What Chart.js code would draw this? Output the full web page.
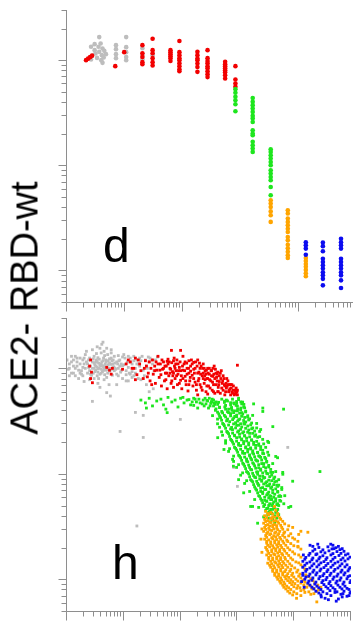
<!DOCTYPE html>
<html>
<head>
<meta charset="utf-8">
<script src="https://cdn.jsdelivr.net/npm/chart.js@4"></script>
<style>
  html, body { margin: 0; padding: 0; background: #fff; }
  #wrap { position: relative; width: 357px; height: 631px; overflow: hidden; }
  canvas { position: absolute; left: 0; top: 0; }
  #ylabel {
    position: absolute; left: 25px; top: 308px;
    transform: translate(-50%, -50%) rotate(-90deg);
    font: 38px "Liberation Sans", Arial, sans-serif;
    white-space: nowrap; color: #000;
  }
</style>
</head>
<body>
<div id="wrap">
  <canvas id="chartD" width="357" height="631"></canvas>
  <canvas id="chartH" width="357" height="631"></canvas>
  <div id="ylabel">ACE2- RBD-wt</div>
</div>
<script>
// tick values (no labels shown on either axis)
const yTicks = [5, 6, 7, 8, 9, 10, 20, 30, 40, 50, 60, 70, 80, 90, 100, 200, 300, 400, 500, 600, 700, 800, 900, 1000, 2000, 3000];
const dXTicks = [1, 2, 3, 4, 5, 6, 7, 8, 9, 10, 20, 30, 40, 50, 60, 70, 80, 90, 100, 200, 300, 400, 500, 600, 700, 800, 900,
  1000, 2000, 3000, 4000, 5000, 6000, 7000, 8000, 9000, 10000, 20000, 30000, 40000, 50000, 60000, 70000, 80000];
const hXTicks = [1, 2, 3, 4, 5, 6, 7, 8, 9, 10, 20, 30, 40, 50, 60, 70, 80, 90, 100, 200, 300, 400, 500, 600, 700, 800, 900,
  1000, 2000, 3000, 4000, 5000, 6000, 7000, 8000, 9000, 10000, 20000, 30000, 40000, 50000, 60000, 70000, 80000, 90000, 100000];

// panel d: columns of [x, [y values]]
const dGray = [[2.6, [1339, 1015]], [3.0, [1420, 1245]], [3.1, [1158]], [3.5, [1339]], [3.6, [1656, 1200]], [3.8, [1442]],
  [4.0, [1116]], [4.1, [1292, 943]], [4.4, [1226]], [4.7, [1141]], [2.7, [1100]], [3.3, [1050]], [3.9, [1000]], [4.3, [1060]],
  [7.0, [1389, 1273, 1141, 1045]], [10.5, [1656, 1330, 1192, 1070, 1000]], [20, [1300, 1116, 1020]], [30, [1116]]];
const dRed = [[2.13, [1000]], [2.31, [1033]], [2.5, [1068]], [2.71, [1104]], [6.8, [877]], [9.7, [1192]],
  [20, [1389, 1165, 1070, 957, 916]],
  [30, [1600, 1245, 1165, 1045, 957, 890]],
  [61, [1245, 1192, 1141, 1092, 1045, 980]],
  [87, [1520, 1192, 1116, 1045, 1000, 935, 877, 820, 785]],
  [178, [1200, 1116, 1038, 1000, 930, 860, 774]],
  [266, [1245, 1045, 980, 935, 877, 839, 785, 736, 690]],
  [535, [963, 916, 877, 839, 803, 769, 720, 670]],
  [805, [877, 655, 600, 557]]];
const dGreen = [[805, [530, 490, 448, 416, 380, 326]],
  [1600, [437, 401, 373, 347, 322, 295, 279, 258, 215, 200, 193, 167, 155, 144, 134]],
  [3270, [142, 134, 124.5, 116, 107.5, 100, 89.6, 83.4, 77.4, 71.9, 62.1, 51.8]]];
const dOrange = [[3270, [46.4, 43.2, 40.1, 36.4, 33.4, 28.9]],
  [6450, [37.3, 34.7, 31.1, 28.9, 26.8, 24.9, 23.2, 20.8, 19.3, 17.5, 16.2, 15.0, 13.9, 13.1]],
  [13200, [13.1, 12.3, 11.5, 10.8, 10.1, 9.4, 8.8]]];
const dBlue = [[13200, [18.5, 17.3, 16.1, 14.1]],
  [26000, [18.4, 17.0, 15.2, 12.9, 12.0, 11.2, 10.4, 9.6, 8.96, 8.3, 7.2]],
  [53400, [20.0, 18.5, 17.3, 16.1, 12.9, 12.0, 11.2, 10.4, 9.6, 8.96, 8.03, 6.8]]];

// panel h: [x, y] points
const hGray = [
  [2.1, 1000], [2.3, 1100], [2.5, 950], [2.6, 1050], [2.8, 1150], [2.9, 900], [3.0, 1000], [3.1, 1080], [3.2, 960], [3.3, 1200],
  [3.4, 1030], [3.5, 920], [3.6, 1120], [3.7, 1000], [3.8, 880], [3.9, 1060], [4.0, 980], [4.1, 1150], [4.2, 930], [4.3, 1040],
  [4.5, 1000], [4.6, 870], [4.7, 1100], [4.8, 960], [5.0, 1050], [5.2, 900], [5.3, 1180], [5.5, 1000], [5.7, 940], [5.9, 1090],
  [6.1, 980], [6.3, 860], [6.5, 1030], [6.8, 950], [7.0, 1120], [3.4, 850], [2.7, 860], [4.4, 1250], [3.0, 1300], [3.6, 800],
  [5.0, 820], [2.4, 1200], [4.0, 1100], [3.2, 1150], [4.9, 1150], [3.5, 1260], [4.6, 1320], [5.6, 1230], [6.2, 1180], [2.9, 1230],
  [1.05, 980], [1.1, 1100], [1.2, 900], [1.3, 1050], [1.4, 850], [1.5, 1150], [1.6, 960], [1.7, 1250], [1.8, 880], [1.9, 1020],
  [1.3, 1200], [1.6, 800], [7.5, 880], [8, 1000], [8.5, 1200], [9, 950], [10, 1080], [11, 870], [12, 1020], [13, 1150],
  [14, 930], [16, 1000], [18, 1100], [20, 1180], [22, 960], [25, 1050], [28, 1150], [9.5, 800], [12, 760], [15, 850],
  [4.5, 1450], [3.8, 1550], [6, 1400], [2.0, 750], [3.5, 720], [5.5, 700], [7.5, 700], [7.5, 1150], [8.5, 1050], [9.5, 1280],
  [2.2, 1150], [2.4, 1020], [2.5, 1250], [2.6, 880], [2.8, 1000], [3.0, 1120], [3.1, 930], [3.2, 1050], [3.4, 1150], [3.5, 990],
  [3.7, 1220], [3.8, 1080], [4.0, 900], [4.2, 1060], [4.3, 1180], [4.4, 960], [4.6, 1040], [4.8, 1200], [5.1, 970], [5.3, 1080],
  [5.6, 1120], [5.8, 1000], [6.0, 1250], [6.4, 1100], [6.7, 1030], [7.2, 980], [7.8, 1100], [8.2, 1180], [8.8, 920], [9.5, 1060],
  [2.0, 1100], [2.3, 900], [1.9, 1200], [1.4, 1000], [1.2, 1300], [1.1, 850], [1.5, 1250], [1.7, 1100], [1.8, 950], [2.1, 1350],
  [3.3, 1380], [4.0, 1400], [5.2, 1350], [6.8, 1300], [8, 1320], [10.5, 1250], [11.5, 1150], [13, 1250], [15, 1180], [17, 1100],
  [19, 1250], [24, 1200], [27, 1280], [31, 1200], [12.5, 900], [14, 820], [11, 760], [3.0, 800], [4.5, 780], [2.5, 780],
  [10, 1350], [11, 950], [12, 1300], [13, 880], [14, 1100], [15, 1300], [16, 900], [17, 1200], [18, 800], [19, 1050],
  [21, 1300], [23, 850], [26, 1000], [29, 1250], [32, 1100], [36, 1200], [39, 1280], [34, 950], [9, 1100], [8, 850],
  [7, 1000], [6.5, 1200], [2.2, 1450], [2.8, 1500], [3.4, 1600], [5, 1550], [6, 1500], [1.1, 1000], [1.2, 1150], [1.0, 1200],
  [1.3, 900], [1.5, 1050], [1.7, 900], [1.4, 1300], [2.0, 1250], [1.9, 850],
  [20, 780], [25, 700], [33, 640], [28, 600], [4.3, 1770], [4.1, 1690], [2.8, 486], [8.6, 252], [22, 221], [17, 32],
  [16, 382], [22, 358], [99, 328], [860, 115], [1000, 76], [5.0, 588], [5.8, 546], [3.8, 660], [7700, 178]];
const hRed = [
  [2.6, 1200], [2.5, 1050], [2.7, 920], [2.6, 800], [2.8, 730], [5.0, 1020], [5.6, 960], [6.3, 1000], [6.0, 880], [9.5, 980],
  [11, 1100], [12, 1200], [14, 1000],
  [13, 1150], [15, 1000], [16, 1250], [17, 870], [19, 1100], [20, 950], [22, 800], [24, 1180], [25, 1050], [27, 900],
  [29, 760], [30, 1000], [32, 1200], [33, 880], [35, 1050], [36, 720], [38, 960], [40, 1300], [42, 820], [44, 1100],
  [46, 680], [48, 980], [50, 1150], [52, 760], [54, 900], [56, 1050], [58, 640], [60, 1220], [62, 850], [65, 1000],
  [68, 720], [70, 1130], [72, 930], [75, 660], [78, 1050], [80, 800], [83, 950], [86, 1200], [88, 700], [90, 880],
  [95, 1020], [100, 770], [105, 640], [110, 960], [115, 1100], [120, 840], [125, 700], [130, 1000], [135, 610], [140, 900],
  [145, 760], [150, 1050], [110, 1300], [160, 860], [165, 680], [170, 980], [180, 740], [185, 1150], [190, 620], [200, 900],
  [210, 800], [220, 1000], [230, 660], [240, 850], [250, 1100], [260, 720], [270, 940], [280, 600], [290, 800], [300, 1000],
  [310, 680], [320, 880], [340, 760], [350, 950], [360, 620], [370, 840], [380, 700], [390, 1050], [400, 580], [200, 560],
  [300, 570], [420, 900], [440, 760], [460, 660], [480, 850], [500, 580], [520, 950], [540, 720], [560, 620], [580, 800],
  [600, 560], [630, 720], [660, 680], [700, 600], [730, 700], [760, 560], [800, 700], [850, 620], [900, 570], [950, 650],
  [1000, 560], [58, 1165], [170, 1140], [100, 1480], [69, 1480], [1000, 1070], [75, 900], [140, 1180], [250, 800], [450, 600],
  [35, 950], [40, 1100], [45, 870], [50, 1000], [55, 780], [60, 1100], [65, 900], [70, 760], [75, 1180], [80, 1000],
  [85, 850], [90, 1100], [95, 720], [100, 950], [110, 800], [120, 1150], [130, 880], [140, 700], [150, 940], [160, 1100],
  [170, 800], [180, 1000], [190, 700], [200, 1200], [210, 920], [220, 700], [230, 1050], [240, 620], [250, 900], [260, 1000],
  [270, 780], [280, 880], [290, 680], [300, 800], [320, 1000], [330, 650], [350, 850], [370, 1000], [380, 600], [400, 800],
  [420, 700], [440, 880], [460, 600], [480, 750], [500, 900], [530, 650], [560, 850], [590, 700], [620, 600], [650, 800],
  [690, 700], [720, 620], [760, 700], [800, 600], [850, 680], [900, 620], [950, 580], [1000, 620], [16, 780], [18, 1200],
  [23, 1000], [26, 830], [28, 1150], [31, 700],
  [37, 1150], [43, 960], [47, 1200], [53, 1050], [57, 900], [63, 1150], [67, 980], [73, 850], [77, 1250], [82, 1100],
  [92, 950], [98, 1150], [103, 850], [108, 1050], [118, 950], [123, 760], [128, 1120], [138, 1000], [148, 820], [155, 1200],
  [175, 900], [195, 1050], [205, 760], [215, 1120], [225, 880], [245, 1000], [265, 850], [285, 960], [305, 900], [325, 780],
  [345, 950], [365, 740], [385, 880], [410, 980], [430, 820], [450, 920], [470, 700], [510, 800], [550, 760], [600, 680],
  [640, 650], [680, 760], [740, 640], [780, 650], [820, 580], [880, 560], [930, 600], [980, 600]];
const hGreen = [
  [20, 500], [24, 470], [28, 520], [32, 440], [38, 490], [45, 510], [50, 450], [60, 530], [70, 480], [80, 500],
  [90, 430], [100, 520], [115, 470], [130, 500], [150, 450], [170, 520], [190, 480], [210, 510], [240, 460], [270, 520],
  [300, 490], [330, 440], [360, 510], [390, 470], [200, 420], [55, 410], [25, 420], [110, 530], [140, 505], [160, 480],
  [180, 510], [220, 470], [250, 500], [280, 460], [320, 520], [350, 480], [380, 500], [400, 455], [260, 440], [170, 445],
  [290, 497], [420, 480], [530, 510], [670, 490], [860, 470], [1050, 505],
  [340, 465], [450, 455], [590, 475], [760, 450], [970, 468], [1190, 460],
  [380, 440], [485, 428], [620, 445], [790, 425], [1000, 438], [1290, 430],
  [410, 400], [530, 390], [700, 410], [890, 395], [1140, 405], [1400, 392],
  [470, 370], [590, 358], [760, 372], [970, 360], [1240, 368], [1520, 355],
  [505, 340], [670, 330], [860, 338], [1050, 325], [1340, 342], [1640, 332],
  [550, 300], [730, 312], [930, 305], [1140, 298], [1400, 310], [1780, 303],
  [590, 285], [790, 275], [970, 288], [1190, 278], [1520, 284], [1860, 272],
  [650, 252], [820, 262], [1050, 255], [1290, 250], [1580, 260], [2010, 254],
  [700, 240], [890, 232], [1090, 238], [1340, 230], [1640, 242], [2100, 234],
  [760, 212], [970, 220], [1190, 214], [1450, 218], [1780, 210], [2270, 222],
  [820, 200], [1050, 194], [1290, 202], [1580, 196], [1930, 199], [2370, 192],
  [890, 178], [1140, 185], [1400, 180], [1710, 176], [2100, 186], [2570, 181],
  [970, 168], [1240, 163], [1520, 170], [1860, 165], [2270, 160], [2790, 167],
  [1050, 150], [1340, 156], [1640, 151], [1930, 154], [2370, 148], [2900, 155],
  [1140, 142], [1450, 138], [1710, 141], [2100, 136], [2570, 143], [3150, 139],
  [1240, 126], [1520, 130], [1860, 127], [2270, 132], [2680, 125], [3280, 129],
  [1340, 118], [1640, 115], [2010, 119], [2370, 114], [2900, 117], [3560, 116],
  [1450, 105], [1780, 109], [2180, 104], [2570, 108], [3150, 106], [3860, 103],
  [1580, 100], [1930, 96], [2270, 99], [2790, 95], [3280, 101], [4020, 97],
  [1710, 88], [2100, 92], [2470, 89], [2900, 91], [3560, 87], [4360, 90],
  [1860, 84], [2270, 81], [2680, 85], [3150, 82], [3700, 80], [4540, 84],
  [2010, 75], [2370, 78], [2790, 74], [3280, 77], [4020, 75], [4920, 78],
  [2180, 70], [2570, 68], [3020, 71], [3560, 67], [4180, 70], [5130, 68],
  [2370, 62], [2790, 65], [3280, 63], [3860, 61], [4540, 64], [5560, 62],
  [2570, 58], [3020, 56], [3560, 59], [4020, 57], [4730, 58], [5790, 55],
  [2790, 53], [3280, 55], [3700, 52], [4360, 54], [5130, 52],
  [2900, 49], [3420, 47], [4020, 50], [4540, 48], [5340, 50],
  [3150, 45], [3700, 44], [4180, 46], [4920, 44],
  [3420, 41], [3860, 42], [4540, 40], [5340, 41],
  [3560, 38], [4180, 37], [4920, 38],
  [3860, 35], [4540, 34],
  [350, 482], [466, 476], [594, 488], [759, 472], [968, 485], [1236, 478],
  [310, 420], [420, 412], [485, 425], [619, 410], [790, 418], [1009, 412], [1341, 422],
  [447, 384], [548, 378], [670, 388], [857, 380], [1094, 376], [1397, 386],
  [485, 352], [619, 346], [759, 354], [968, 348], [1187, 351], [1515, 345], [365, 356],
  [527, 322], [645, 318], [823, 326], [1009, 316], [1288, 320], [1578, 324],
  [570, 294], [700, 290], [857, 297], [1050, 289], [1341, 296], [1711, 291], [447, 298],
  [619, 270], [759, 266], [930, 272], [1140, 264], [1397, 270], [1782, 267], [2184, 272],
  [670, 247], [823, 243], [1009, 249], [1236, 244], [1515, 248], [1856, 242], [527, 250],
  [728, 226], [893, 229], [1094, 223], [1341, 228], [1643, 224], [2013, 227], [2467, 225],
  [790, 207], [968, 204], [1187, 210], [1455, 205], [1782, 208], [2184, 203], [619, 206],
  [857, 191], [1050, 187], [1288, 193], [1578, 188], [1933, 190], [2369, 186], [2902, 192],
  [930, 174], [1140, 171], [1397, 176], [1711, 172], [2097, 175], [2569, 170], [728, 173],
  [1009, 160], [1236, 157], [1515, 161], [1856, 158], [2274, 159], [2787, 156], [3415, 160],
  [1094, 147], [1341, 144], [1643, 148], [2013, 145], [2467, 146], [3023, 143], [857, 147],
  [1187, 134], [1455, 132], [1782, 136], [2184, 133], [2676, 135], [3279, 131],
  [1288, 123], [1578, 121], [1933, 124], [2369, 122], [2902, 125], [3556, 120], [1050, 122],
  [1397, 112], [1711, 110], [2097, 113], [2569, 111], [3148, 114], [3858, 110],
  [1515, 103], [1856, 101], [2274, 104], [2787, 102], [3415, 100], [4184, 103], [1236, 102],
  [1643, 94], [2013, 93], [2467, 95], [3023, 92], [3704, 94], [4539, 93],
  [1782, 86], [2184, 85], [2676, 87], [3279, 84], [4018, 86], [4923, 85], [1455, 86],
  [1933, 79], [2369, 78], [2902, 80], [3556, 77], [4358, 79], [5340, 78],
  [2097, 72], [2569, 73], [3148, 71], [3858, 73], [4727, 72], [6040, 71],
  [2274, 66], [2787, 67], [3415, 65], [4184, 66], [5128, 67],
  [2467, 61], [3023, 60], [3704, 62], [4358, 60], [5340, 61],
  [2676, 56], [3279, 55], [3858, 57], [4727, 55], [5562, 56],
  [3023, 51], [3556, 50], [4184, 52], [4923, 51],
  [3279, 47], [3858, 46], [4358, 47.5], [5128, 46],
  [3556, 43], [4018, 42.5], [4727, 43],
  [447, 330], [485, 276], [548, 232], [619, 195], [700, 163], [823, 137], [968, 115], [1140, 97], [1341, 81], [1643, 68],
  [2013, 57], [2369, 48], [1856, 358], [2184, 300], [2467, 252], [2787, 212], [3148, 178], [3556, 150], [4184, 125], [4727, 105],
  [5340, 88], [6040, 74], [6820, 62], [6560, 52],
  [600, 430], [800, 400], [950, 445], [1150, 420], [700, 380], [900, 350], [1100, 330], [1300, 300], [1200, 380], [1000, 395],
  [880, 460], [1150, 480], [1300, 455], [640, 500], [820, 510], [1050, 520],
  [1930, 460], [2570, 263], [3415, 203], [4730, 146], [6280, 103], [5130, 76], [5790, 61], [8700, 49], [857, 131], [1050, 88],
  [1711, 49], [2900, 39],
  [450, 220], [580, 170], [850, 118], [1290, 66], [1850, 49], [2270, 34], [2800, 390], [4200, 280], [3550, 198], [5100, 142],
  [6300, 99], [9400, 85], [8000, 48], [6500, 410], [28400, 105], [2800, 420], [58, 380]];
const hOrange = [
  [3150, 44], [3860, 43], [4730, 45],
  [3020, 40], [3560, 41], [4180, 39], [5130, 40],
  [3020, 37], [3420, 36], [4020, 37.5], [4730, 36], [5790, 37],
  [2900, 34], [3420, 33], [3860, 34.5], [4540, 33], [5340, 34], [6800, 33.5],
  [3020, 31], [3560, 30.5], [4180, 31.5], [4920, 30.5], [6030, 31], [9400, 31],
  [2900, 28.5], [3420, 28], [4020, 29], [4730, 28], [5560, 28.5], [6800, 28], [13100, 28.5],
  [3150, 26], [3700, 26.5], [4360, 25.8], [5130, 26.3], [6280, 26], [8000, 25.8],
  [3020, 24], [3560, 23.6], [4180, 24.2], [4920, 23.8], [5790, 24], [7400, 23.5], [10200, 24],
  [3280, 22], [3860, 21.6], [4540, 22.2], [5340, 21.7], [6560, 22], [8700, 21.8],
  [3150, 20], [3700, 20.3], [4360, 19.8], [5130, 20.2], [6040, 20], [7700, 19.9], [11700, 20.2],
  [3420, 18.5], [4020, 18.2], [4730, 18.6], [5560, 18.3], [6820, 18.5], [9400, 18.2],
  [3280, 17], [3860, 16.8], [4540, 17.1], [5340, 16.7], [6280, 17], [8000, 16.8], [12000, 17],
  [3560, 15.5], [4180, 15.3], [4920, 15.6], [5790, 15.4], [7000, 15.5], [9400, 15.3],
  [3420, 14.2], [4020, 14], [4730, 14.3], [5560, 14.1], [6560, 14.2], [8350, 14], [12000, 14.3],
  [3860, 13], [4540, 12.8], [5340, 13.1], [6280, 12.9], [7700, 13], [10200, 12.8], [14200, 13.1],
  [4180, 11.9], [4920, 11.7], [5790, 12], [6820, 11.8], [8350, 11.9], [11100, 11.7],
  [4540, 10.9], [5340, 10.7], [6280, 11], [7390, 10.8], [9050, 10.9], [12000, 10.7], [16000, 11],
  [5130, 10], [6040, 9.8], [7110, 10.1], [8700, 9.9], [10700, 10], [14200, 9.8], [19600, 10.1],
  [5790, 9.2], [6820, 9.0], [8350, 9.3], [10250, 9.1], [13100, 9.2], [17400, 9.0], [23100, 9.2],
  [6560, 8.4], [8000, 8.3], [9860, 8.5], [12600, 8.3], [16700, 8.4], [22200, 8.2], [29500, 8.4],
  [7700, 7.7], [9840, 7.6], [13100, 7.8], [18100, 7.6], [25100, 7.7],
  [9400, 7.1], [13100, 7.0], [19600, 7.2],
  [3420, 42], [4180, 41.5], [5130, 42],
  [3280, 38.5], [3860, 38], [4540, 38.8], [5560, 38.2],
  [3150, 35.3], [3700, 35], [4360, 35.6], [5130, 35.1], [6280, 35.4],
  [3150, 32.4], [3700, 32], [4180, 32.7], [4920, 32.2], [5790, 32.5], [8000, 32.1],
  [3150, 29.7], [3700, 29.4], [4360, 30], [5130, 29.5], [6280, 29.8], [7700, 29.5],
  [3280, 27.2], [3860, 27], [4540, 27.4], [5340, 27], [6560, 27.3], [8700, 27],
  [3280, 25], [4020, 24.8], [4730, 25.2], [5560, 24.9], [6820, 25], [9400, 24.7],
  [3280, 22.9], [3860, 22.6], [4540, 23.1], [5340, 22.7], [6280, 23], [7700, 22.8], [11600, 22.9],
  [3420, 21], [4180, 20.8], [4920, 21.2], [5790, 20.9], [7110, 21], [9840, 20.8],
  [3280, 19.2], [4020, 19], [4730, 19.4], [5560, 19.1], [6560, 19.2], [8350, 19], [13100, 19.3],
  [3560, 17.6], [4360, 17.4], [5130, 17.8], [6040, 17.5], [7390, 17.6], [10200, 17.4],
  [3560, 16.1], [4180, 15.9], [4920, 16.2], [5790, 16], [6820, 16.1], [8700, 15.9], [13100, 16.2],
  [3860, 14.8], [4540, 14.6], [5340, 14.9], [6280, 14.7], [7700, 14.8], [10700, 14.6],
  [3700, 13.6], [4360, 13.4], [5130, 13.7], [6040, 13.5], [7110, 13.6], [9050, 13.4], [13100, 13.7],
  [4180, 12.4], [4920, 12.2], [5790, 12.5], [7110, 12.3], [8700, 12.4], [11600, 12.2], [15400, 12.5],
  [4540, 11.4], [5340, 11.2], [6280, 11.5], [7700, 11.3], [9400, 11.4], [12600, 11.2],
  [4920, 10.5], [5790, 10.3], [6820, 10.6], [8000, 10.4], [9840, 10.5], [13100, 10.3], [17400, 10.6],
  [5560, 9.6], [6560, 9.4], [7700, 9.7], [9400, 9.5], [11600, 9.6], [15400, 9.4], [21300, 9.7],
  [6280, 8.8], [7390, 8.6], [9050, 8.9], [11600, 8.7], [14800, 8.8], [19600, 8.6], [26100, 8.8],
  [7110, 8.1], [8700, 8.0], [11100, 8.2], [14800, 8.0], [20500, 8.1], [27200, 8.0],
  [8350, 7.4], [11100, 7.3], [15400, 7.5], [22200, 7.3],
  [4500, 49], [2700, 30], [2600, 24], [2700, 18],
  [25000, 6.1], [11000, 6.6], [12000, 26.6], [17400, 27.9], [11600, 20.5]];
const hBlue = [
  [27200, 20], [39200, 20.3], [54300, 19.9],
  [21300, 18.5], [29500, 18.2], [40900, 18.6], [56600, 18.3], [75200, 18.4],
  [18100, 16.9], [24100, 17.1], [32000, 16.7], [44300, 17], [61400, 16.8],
  [15400, 15.5], [20500, 15.3], [27200, 15.6], [36200, 15.4], [48100, 15.5], [66500, 15.3], [88500, 15.6],
  [16700, 14.2], [22200, 14], [29500, 14.3], [39200, 14.1], [52200, 14.2], [69300, 14],
  [14200, 13], [18900, 12.8], [25100, 13.1], [33400, 12.9], [44300, 13], [58900, 12.8], [78300, 13.1], [96000, 12.9],
  [16000, 11.9], [21300, 11.7], [28400, 12], [37700, 11.8], [50100, 11.9], [66500, 11.7], [88500, 12],
  [14200, 10.9], [18100, 10.7], [24100, 11], [32000, 10.8], [42600, 10.9], [56600, 10.7], [75200, 11], [96000, 10.8],
  [15400, 10], [20500, 9.8], [27200, 10.1], [36200, 9.9], [48100, 10], [63900, 9.8], [85000, 10.1],
  [17400, 9.2], [23100, 9], [30700, 9.3], [40900, 9.1], [54300, 9.2], [72200, 9], [96000, 9.3],
  [20500, 8.4], [27200, 8.3], [36200, 8.5], [48100, 8.3], [63900, 8.4], [85000, 8.2],
  [24100, 7.7], [32000, 7.6], [42600, 7.8], [56600, 7.6], [75200, 7.7], [99000, 7.6],
  [29500, 7.1], [44300, 7], [66500, 7.2], [92200, 7.0],
  [23100, 19.2], [32000, 19], [46200, 19.4], [63900, 19.1],
  [18900, 17.6], [25100, 17.4], [34800, 17.8], [48100, 17.5], [66500, 17.6], [88500, 17.4],
  [16000, 16.1], [21300, 15.9], [28400, 16.2], [37700, 16], [52200, 16.1], [72200, 15.9], [96000, 16.2],
  [14200, 14.8], [18900, 14.6], [25100, 14.9], [33400, 14.7], [44300, 14.8], [58900, 14.6], [78300, 14.9],
  [15400, 13.6], [20500, 13.4], [27200, 13.7], [36200, 13.5], [48100, 13.6], [63900, 13.4], [85000, 13.7],
  [16700, 12.4], [22200, 12.2], [29500, 12.5], [39200, 12.3], [52200, 12.4], [69300, 12.2], [92200, 12.5],
  [14200, 11.4], [18900, 11.2], [25100, 11.5], [33400, 11.3], [44300, 11.4], [58900, 11.2], [78300, 11.5],
  [16000, 10.5], [21300, 10.3], [28400, 10.6], [37700, 10.4], [50100, 10.5], [66500, 10.3], [88500, 10.6],
  [18100, 9.6], [24100, 9.4], [32000, 9.7], [42600, 9.5], [56600, 9.6], [75200, 9.4], [99000, 9.7],
  [18900, 8.8], [25100, 8.6], [33400, 8.9], [44300, 8.7], [58900, 8.8], [78300, 8.6],
  [22200, 8.1], [29500, 8.0], [39200, 8.2], [52200, 8.0], [69300, 8.1], [92200, 8.0],
  [27200, 7.4], [37700, 7.3], [52200, 7.5], [72200, 7.3], [96000, 7.4],
  [14500, 17], [13500, 9.5], [15000, 8.4], [19000, 21], [26000, 21.5], [44000, 21.5], [60000, 20.5], [70000, 19.5],
  [80000, 17], [30000, 6.8], [40000, 6.4], [55000, 6.2], [70000, 6.8], [85000, 6.9],
  [21300, 20.5], [48100, 21], [50100, 19.5], [35000, 6.6], [60000, 6.5]];

const COLORS = { gray: "#bdbdbd", red: "#f20000", green: "#1ee61e", orange: "#ffa500", blue: "#0c0cf0" };

function expandColumns(columns) {
  const points = [];
  columns.forEach(([x, ys]) => ys.forEach((y) => points.push([x, y])));
  return points;
}

function isDecade(v) {
  const l = Math.log10(v);
  return Math.abs(l - Math.round(l)) < 1e-9;
}

// draws the axis lines, log tick marks and the panel letter
const panelAxes = {
  id: "panelAxes",
  beforeDatasetsDraw(chart, args, opts) {
    const { ctx, chartArea: area, scales } = chart;
    const left = Math.round(area.left) - 0.5;
    const bottom = Math.round(area.bottom) + 0.5;
    ctx.save();
    ctx.strokeStyle = "#8e8e8e";
    ctx.lineWidth = 1;
    ctx.beginPath();
    ctx.moveTo(left, area.top);
    ctx.lineTo(left, bottom);
    ctx.lineTo(area.right, bottom);
    yTicks.forEach((v) => {
      const py = Math.round(scales.y.getPixelForValue(v)) + 0.5;
      const len = isDecade(v) ? 8 : 5;
      ctx.moveTo(left - len, py);
      ctx.lineTo(left, py);
    });
    opts.xTicks.forEach((v) => {
      const px = Math.round(scales.x.getPixelForValue(v)) - 0.5;
      const len = isDecade(v) ? 9 : 5;
      ctx.moveTo(px, bottom);
      ctx.lineTo(px, bottom + len);
    });
    ctx.stroke();
    ctx.fillStyle = "#000";
    ctx.font = '48px "Liberation Sans", Arial, sans-serif';
    ctx.fillText(opts.letter, opts.letterX, opts.letterY);
    ctx.restore();
  },
};

function createDataset(label, data, color, radius, style) {
  return {
    label: label,
    data: data,
    backgroundColor: color,
    pointRadius: radius,
    pointStyle: style,
    pointBorderWidth: 0,
    borderWidth: 0,
  };
}

function createPanel(id, datasets, xMax, xTicks, padding, letter, letterX, letterY) {
  return new Chart(document.getElementById(id), {
    type: "scatter",
    data: { datasets: datasets },
    options: {
      responsive: false,
      animation: false,
      events: [],
      layout: { padding: padding },
      plugins: {
        legend: { display: false },
        tooltip: { enabled: false },
        panelAxes: { xTicks: xTicks, letter: letter, letterX: letterX, letterY: letterY },
      },
      scales: {
        x: { type: "logarithmic", display: false, min: 1, max: xMax },
        y: { type: "logarithmic", display: false, min: 5, max: 3000 },
      },
    },
    plugins: [panelAxes],
  });
}

// first dataset is drawn on top
createPanel("chartD", [
  createDataset("blue", expandColumns(dBlue), COLORS.blue, 2.3, "circle"),
  createDataset("orange", expandColumns(dOrange), COLORS.orange, 2.3, "circle"),
  createDataset("green", expandColumns(dGreen), COLORS.green, 2.3, "circle"),
  createDataset("red", expandColumns(dRed), COLORS.red, 2.3, "circle"),
  createDataset("gray", expandColumns(dGray), COLORS.gray, 2.3, "circle"),
], 86000, dXTicks, { left: 67, top: 10, right: 4, bottom: 329 }, "d", 103, 262);

createPanel("chartH", [
  createDataset("blue", hBlue, COLORS.blue, 2, "rect"),
  createDataset("orange", hOrange, COLORS.orange, 2, "rect"),
  createDataset("green", hGreen, COLORS.green, 2, "rect"),
  createDataset("red", hRed, COLORS.red, 2, "rect"),
  createDataset("gray", hGray, COLORS.gray, 2, "rect"),
], 100000, hXTicks, { left: 67, top: 318, right: 6, bottom: 20 }, "h", 112, 579);
</script>
</body>
</html>
